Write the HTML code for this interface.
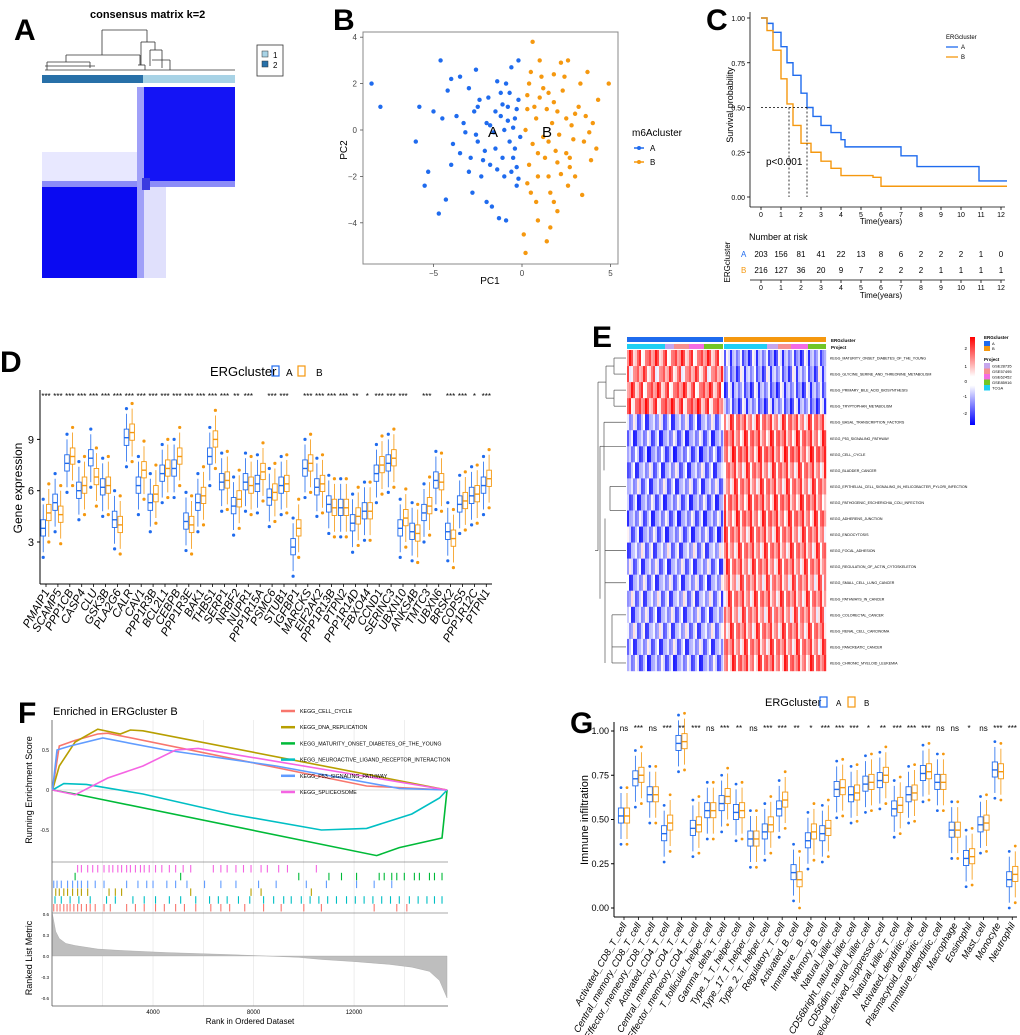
<!DOCTYPE html>
<html><head><meta charset="utf-8"><style>
html,body{margin:0;padding:0;background:#fff;}
svg{display:block;font-family:"Liberation Sans",sans-serif;}
</style></head><body>
<svg id="fig" xmlns="http://www.w3.org/2000/svg" width="1020" height="1035" viewBox="0 0 1020 1035"></svg>
<script>
// ===== Panel B data =====
const pcaAx=[-8.5,-8,-6,-5.8,-5.5,-5.3,-4.7,-4.6,-4.5,-4.3,-4.2,-4,-3.9,-3.5,-3.3,-3,-3,-2.8,-2.6,-2.5,-2.5,-2.2,-2,-2,-1.8,-1.7,-1.5,-1.5,-1.3,-1.2,-1,-1,-0.9,-0.8,-0.7,-0.6,-0.5,-0.4,-0.3,-0.2,-0.2,-0.1,-3.5,-2.7,-2.3,-1.9,-1.6,-1.1,-0.9,-0.5,-0.3,-4,-3.2,-2.1,-1.4,-0.7,-0.4,-1.2,-2.4,-3.7,-5,-2.9,-1.8,-0.6,-0.2,-1.4,-0.8,-2.6,-0.3,-1.1];
const pcaAy=[2,1,-0.5,1,-2.4,-1.8,-3.6,3,0.5,-3,1.7,2.2,-0.6,2.3,0.3,-1.8,1.8,-2.7,2.6,-0.5,1,-1.3,-3.1,0.3,-1.5,-3.3,0.8,-0.8,-3.8,1.6,-2,0,-3.9,1,-0.5,2.7,-1.2,0.5,-2.4,1.3,3,-0.3,-1,0.8,-2,1.4,-0.1,-1.2,2,0.1,-1.6,-1.5,-0.1,-0.9,2.1,1.6,-0.8,0.6,1.3,0.6,0.8,-1.2,0.2,-1.8,-2.1,-1.7,0.4,-0.2,0.9,1.1];
const pcaBx=[0.6,0.2,0.1,0.8,0.9,1.4,1.6,1.8,2,1.5,3.4,3,4.2,4.9,4.3,3.7,2.6,1.8,1,0.5,0.3,0.8,1.2,1.5,2,2.5,2.8,3.2,0.4,0.9,1.3,2.2,2.7,3.5,0.2,0.6,1.7,2.3,2.9,3.6,0.3,1.1,1.9,2.4,0.7,1.4,2.1,3,0.5,1.6,2.6,3.9,4,0.4,1.2,2.5,1.8,0.9,2.2,3.3,3.8,1,2,0.3,1.5,2.7];
const pcaBy=[3.8,-5.3,-4.5,-3.1,-3.9,-4.8,-4.2,-3.1,-3.5,-2,-2.8,-2,-0.8,2,1.3,2.5,3,2.4,3,2.5,1.5,0.5,1.8,-0.5,0.8,-1,0.2,1,-1.5,-2,-1.2,-1.9,-1.6,-0.5,0,-0.6,0.3,1.7,-0.4,0.6,-2.3,2.3,-0.9,2.3,1,0.9,-0.2,0.7,-2.7,-2.7,-2.4,-1.3,0.3,2,-0.3,0.5,1.2,-1,2.9,2,-0.1,1.4,-1.4,0.9,1.6,-1.2];
// ===== Panel C data =====
const survAt=[0,0.3,0.6,1,1.3,1.6,2,2.3,2.6,3,3.5,4,4.2,7,7.8,10.9,12.3];
const survAs=[1,0.97,0.92,0.84,0.75,0.68,0.58,0.5,0.45,0.4,0.36,0.32,0.28,0.23,0.17,0.09,0.09];
const survBt=[0,0.3,0.6,1,1.3,1.6,2,2.5,3,3.5,4,5.6,6,12.3];
const survBs=[1,0.93,0.82,0.66,0.52,0.4,0.3,0.25,0.2,0.16,0.12,0.11,0.06,0.06];
const riskA=[203,156,81,41,22,13,8,6,2,2,2,1,0];
const riskB=[216,127,36,20,9,7,2,2,2,1,1,1,1];
const timeTicks=[0,1,2,3,4,5,6,7,8,9,10,11,12];
// ===== Panel D data =====
const genes=["PMAIP1","SCAMP5","PPP1CB","CASP4","CLU","GSK3B","PLA2G6","CALR","CAV1","PPP1R3B","BCL2L1","CEBPB","PPP1R3E","BAK1","THBS1","SERP1","NRBF2","NUPR1","PPP1R15A","PSMC6","STUB1","IGFBP1","MARCKS","EIF2AK2","PPP1R13B","PTPN2","PPP1R14D","FBXO44","CCND1","SERINC3","UBXN10","ANKS4B","TMTC3","UBXN6","BRSK2","COPS5","PPP1R12C","PTPN1"];
const medA=[3.8,5.3,7.6,6.0,7.9,6.2,4.3,9.1,6.3,5.3,7.0,7.3,4.2,5.3,8.0,6.5,5.1,6.5,6.4,5.6,6.3,2.7,7.3,6.2,5.2,5.0,4.1,4.8,7.0,7.6,3.8,3.6,4.7,6.6,3.6,5.2,5.7,6.3];
const medB=[4.7,4.6,8.0,6.3,6.8,6.3,4.0,9.4,7.2,5.8,7.3,8.0,4.0,5.7,9.0,6.6,5.5,6.3,7.1,5.9,6.4,3.8,7.6,6.4,5.0,5.0,4.5,4.8,7.5,7.9,4.4,3.5,5.1,6.5,3.2,5.4,5.8,6.7];
const sigD=["***","***","***","***","***","***","***","***","***","***","***","***","***","***","***","***","**","***","","***","***","","***","***","***","***","**","*","***","***","***","","***","","***","***","*","***"];
const exprTicks=[3,6,9];
// ===== Panel E data =====
const pathways=["KEGG_MATURITY_ONSET_DIABETES_OF_THE_YOUNG","KEGG_GLYCINE_SERINE_AND_THREONINE_METABOLISM","KEGG_PRIMARY_BILE_ACID_BIOSYNTHESIS","KEGG_TRYPTOPHAN_METABOLISM","KEGG_BASAL_TRANSCRIPTION_FACTORS","KEGG_P53_SIGNALING_PATHWAY","KEGG_CELL_CYCLE","KEGG_BLADDER_CANCER","KEGG_EPITHELIAL_CELL_SIGNALING_IN_HELICOBACTER_PYLORI_INFECTION","KEGG_PATHOGENIC_ESCHERICHIA_COLI_INFECTION","KEGG_ADHERENS_JUNCTION","KEGG_ENDOCYTOSIS","KEGG_FOCAL_ADHESION","KEGG_REGULATION_OF_ACTIN_CYTOSKELETON","KEGG_SMALL_CELL_LUNG_CANCER","KEGG_PATHWAYS_IN_CANCER","KEGG_COLORECTAL_CANCER","KEGG_RENAL_CELL_CARCINOMA","KEGG_PANCREATIC_CANCER","KEGG_CHRONIC_MYELOID_LEUKEMIA"];
const rowMeanA=[1.0,0.8,1.0,1.1,-0.9,-1.0,-1.1,-0.9,-0.9,-1.0,-1.0,-1.0,-0.8,-0.9,-0.9,-0.8,-0.9,-0.8,-0.9,-1.0];
const rowMeanB=[-1.0,-0.9,-1.0,-1.0,0.9,1.0,1.1,0.9,0.9,1.0,1.0,0.9,0.9,0.9,0.8,0.9,0.8,0.9,0.9,1.0];
const cellTexture=[0.0,0.6,-0.5,0.9,-0.9,0.3,-0.2,1.1,-0.7,0.4,-1.0,0.2,0.7];
// ===== Panel F data =====
const gsNames=["KEGG_CELL_CYCLE","KEGG_DNA_REPLICATION","KEGG_MATURITY_ONSET_DIABETES_OF_THE_YOUNG","KEGG_NEUROACTIVE_LIGAND_RECEPTOR_INTERACTION","KEGG_P53_SIGNALING_PATHWAY","KEGG_SPLICEOSOME"];
const esRank=[
 [0,270,900,1800,2200,12500,15700],
 [0,270,900,1800,2700,3100,3600,15700],
 [0,900,12900,13800,15500,15700],
 [0,450,1350,3600,7100,10700,12500,14300,15400,15700],
 [0,180,700,2000,4500,8900,13800,15700],
 [0,900,2200,3600,4900,5800,15700]];
const esScore=[
 [0,0.55,0.62,0.70,0.71,0.05,0],
 [0,0.30,0.60,0.76,0.70,0.75,0.74,0],
 [0,-0.05,-0.82,-0.72,-0.60,0],
 [0,0.08,0.07,-0.05,-0.30,-0.50,-0.48,-0.30,-0.10,0],
 [0,0.50,0.55,0.65,0.50,0.30,0.02,0],
 [0,-0.06,0.15,0.30,0.50,0.52,0]];
const hitsSplice=[1000,1150,1400,1600,1800,2050,2250,2400,2600,2750,2950,3100,3300,3500,3650,3850,4100,4350,4650,4900,5200,5500,6400,6700,6950,7300,7600,7900,8300,8550,9000,9350,10500];
const hitsMody=[900,5100,9800,11000,11500,12100,13000,13200,13500,13700,14000,14400,14600,15000,15200,15500];
const hitsP53=[50,180,350,600,800,1000,1150,1400,1700,2050,2950,3400,3750,4000,4550,4900,5350,6050,6700,7300,8200,8900,10100,10900,12100,12800,13500];
const hitsDna=[130,270,450,600,800,1000,1150,1400,2250,2500,2750,5500,7900,8300,10300];
const hitsNeuro=[100,350,700,1050,1500,2150,2500,3200,3650,4100,4650,5100,5700,6250,6600,6950,7400,7850,8400,8800,9200,9500,9900,10250,10600,10950,11300,11700,12050,12400,12750,13100,13450,13800,14200,14550,14900,15200,15500];
const hitsCycle=[50,180,300,450,580,700,850,1000,1150,1350,1500,1700,2050,2300,2950,3300,3650,4100,4450,4900,5250,5700,6300,6700,7050,7650,8400,9100,10000,10700,12800,13700,14100];
const metricRank=[0,130,270,530,900,1800,2700,4500,7100,8500,9800,10700,12000,13400,14300,15000,15400,15700];
const metricVal=[0.6,0.35,0.25,0.18,0.15,0.1,0.08,0.05,0.02,0.0,-0.02,-0.05,-0.08,-0.12,-0.16,-0.22,-0.35,-0.6];
const rankTicks=[4000,8000,12000];
// ===== Panel G data =====
const cells=["Activated_CD8_T_cell","Central_memory_CD8_T_cell","Effector_memeory_CD8_T_cell","Activated_CD4_T_cell","Central_memory_CD4_T_cell","Effector_memeory_CD4_T_cell","T_follicular_helper_cell","Gamma_delta_T_cell","Type_1_T_helper_cell","Type_17_T_helper_cell","Type_2_T_helper_cell","Regulatory_T_cell","Activated_B_cell","Immature__B_cell","Memory_B_cell","Natural_killer_cell","CD56bright_natural_killer_cell","CD56dim_natural_killer_cell","Myeloid_derived_suppressor_cell","Natural_killer_T_cell","Activated_dendritic_cell","Plasmacytoid_dendritic_cell","Immature_dendritic_cell","Macrophage","Eosinophil","Mast_cell","Monocyte","Neutrophil"];
const infA=[0.52,0.73,0.64,0.42,0.93,0.45,0.55,0.59,0.54,0.39,0.43,0.56,0.20,0.38,0.42,0.67,0.64,0.70,0.72,0.56,0.64,0.76,0.71,0.44,0.28,0.47,0.78,0.16];
const infB=[0.52,0.75,0.64,0.48,0.94,0.47,0.55,0.63,0.55,0.39,0.47,0.61,0.16,0.43,0.45,0.68,0.65,0.71,0.75,0.58,0.65,0.77,0.71,0.44,0.29,0.48,0.77,0.19];
const sigG=["ns","***","ns","***","**","***","ns","***","**","ns","***","***","**","*","***","***","***","*","**","***","***","***","ns","ns","*","ns","***","***"];
const infTicks=[0,0.25,0.5,0.75,1];

// ===== helpers =====
const NS="http://www.w3.org/2000/svg";
const svg=document.getElementById('fig');
const BLUE="#1F6BEE",ORANGE="#F5980F";
function mk(t,a,p){const e=document.createElementNS(NS,t);for(const k in a)e.setAttribute(k,a[k]);(p||svg).appendChild(e);return e;}
function nm(e,n){


return e;}
function tx(s,x,y,a,p){const e=mk('text',Object.assign({x:x,y:y,fill:'#000'},a||{}),p);e.textContent=s;return e;}
function grp(n){const g=mk('g',{});


return g;}
function line(x1,y1,x2,y2,st,sw,p,extra){return mk('line',Object.assign({x1,y1,x2,y2,stroke:st,'stroke-width':sw},extra||{}),p);}

// ===== Panel A =====
(function(){
const g=grp('panel-a');
nm(tx('A',14,40,{'font-size':30,'font-weight':'bold'},g),'panel-a-label');
nm(tx('consensus matrix k=2',90,18,{'font-size':11,'font-weight':'bold'},g),'panel-a-title');
const d=grp('consensus-dendrogram');g.appendChild(d);
[[102,30,147,30],[102,30,102,55],[147,30,147,42],[66,55,140,55],[66,55,66,62],[140,55,140,65],[47,62,90,62],[47,62,47,70],[90,62,90,68],[141,42,155,42],[141,42,141,65],[155,42,155,50],[150,50,162,50],[150,50,150,66],[162,50,162,68],[138,65,145,65],[145,65,145,70],[45,70,235,70],[45,66,95,66],[152,60,170,60],[170,60,170,70]].forEach(c=>line(c[0],c[1],c[2],c[3],'#333',0.8,d));
nm(mk('rect',{x:42,y:75,width:101,height:8,fill:'#2870A8'},g),'cluster-bar-2');
nm(mk('rect',{x:143,y:75,width:92,height:8,fill:'#A8D3E6'},g),'cluster-bar-1');
const h=grp('consensus-heatmap');g.appendChild(h);
mk('rect',{x:42,y:87,width:193,height:191,fill:'#fff'},h);
mk('rect',{x:42,y:152,width:100,height:30,fill:'#E8E8FF'},h);
mk('rect',{x:143,y:87,width:92,height:94,fill:'#1414F5'},h);
mk('rect',{x:42,y:186,width:96,height:92,fill:'#0A0AF2'},h);
mk('rect',{x:42,y:181,width:193,height:6,fill:'#8C8CF8'},h);
mk('rect',{x:137,y:87,width:7,height:191,fill:'#A0A0F8'},h);
mk('rect',{x:144,y:187,width:22,height:91,fill:'#E0E0FC'},h);
mk('rect',{x:142,y:178,width:8,height:12,fill:'#3B3BE0'},h);
const lg=grp('consensus-legend');g.appendChild(lg);
mk('rect',{x:257,y:45,width:26,height:31,fill:'#fff',stroke:'#333','stroke-width':0.8},lg);
mk('rect',{x:262,y:51,width:6,height:6,fill:'#A8D3E6',stroke:'#333','stroke-width':0.5},lg);
mk('rect',{x:262,y:61,width:6,height:6,fill:'#2870A8',stroke:'#333','stroke-width':0.5},lg);
tx('1',273,58,{'font-size':8},lg);tx('2',273,68,{'font-size':8},lg);
})();

// ===== Panel B =====
(function(){
const g=grp('panel-b');
nm(tx('B',333,30,{'font-size':30,'font-weight':'bold'},g),'panel-b-label');
const X=v=>522+v*17.7, Y=v=>130-v*23.2;
nm(mk('rect',{x:363,y:32,width:255,height:232,fill:'#fff',stroke:'#888','stroke-width':1},g),'pca-plot-area');
[-5,0,5].forEach(v=>{line(X(v),264,X(v),267,'#555',0.8,g);nm(tx(String(v).replace('-','−'),X(v),276,{'font-size':8,'text-anchor':'middle',fill:'#444'},g),'pc1-tick');});
[-4,-2,0,2,4].forEach(v=>{line(360,Y(v),363,Y(v),'#555',0.8,g);nm(tx(String(v).replace('-','−'),357,Y(v)+3,{'font-size':8,'text-anchor':'end',fill:'#444'},g),'pc2-tick');});
nm(tx('PC1',490,284,{'font-size':10,'text-anchor':'middle'},g),'pc1-axis-title');
nm(tx('PC2',347,150,{'font-size':10,'text-anchor':'middle',transform:'rotate(-90 347 150)'},g),'pc2-axis-title');
pcaAx.forEach((v,i)=>{const c=mk('circle',{cx:X(v),cy:Y(pcaAy[i]),r:2.2,fill:BLUE},g);

});
pcaBx.forEach((v,i)=>{const c=mk('circle',{cx:X(v),cy:Y(pcaBy[i]),r:2.2,fill:ORANGE},g);

});
nm(tx('A',488,137,{'font-size':15},g),'cluster-a-label');
nm(tx('B',542,137,{'font-size':15},g),'cluster-b-label');
nm(tx('m6Acluster',632,136,{'font-size':10},g),'pca-legend-title');
line(634,148,644,148,BLUE,1.5,g);mk('circle',{cx:639,cy:148,r:2,fill:BLUE},g);tx('A',650,151,{'font-size':8},g);
line(634,162,644,162,ORANGE,1.5,g);mk('circle',{cx:639,cy:162,r:2,fill:ORANGE},g);tx('B',650,165,{'font-size':8},g);
})();

// ===== Panel C =====
(function(){
const g=grp('panel-c');
nm(tx('C',706,30,{'font-size':30,'font-weight':'bold'},g),'panel-c-label');
const X=t=>761+t*20, Y=s=>197-s*179;
line(750,12,750,207,'#000',0.8,g);line(750,207,1005,207,'#000',0.8,g);
[0,0.25,0.5,0.75,1].forEach(v=>{line(747,Y(v),750,Y(v),'#000',0.8,g);nm(tx(v.toFixed(2),745,Y(v)+3,{'font-size':7,'text-anchor':'end'},g),'survival-y-tick');});
timeTicks.forEach(t=>{line(X(t),207,X(t),210,'#000',0.8,g);nm(tx(String(t),X(t),217,{'font-size':7,'text-anchor':'middle'},g),'time-tick');});
nm(tx('Time(years)',881,224,{'font-size':8,'text-anchor':'middle'},g),'time-axis-title');
nm(tx('Survival probability',733,105,{'font-size':9,'text-anchor':'middle',transform:'rotate(-90 733 105)'},g),'survival-axis-title');
function step(ts,ss){let d='M'+X(ts[0])+','+Y(ss[0]);for(let i=1;i<ts.length;i++){d+=' H'+X(ts[i])+' V'+Y(ss[i]);}return d;}
nm(mk('path',{d:step(survAt,survAs),fill:'none',stroke:BLUE,'stroke-width':1.4},g),'survival-curve-a');
nm(mk('path',{d:step(survBt,survBs),fill:'none',stroke:ORANGE,'stroke-width':1.4},g),'survival-curve-b');
line(761,Y(0.5),X(2.3),Y(0.5),'#000',0.8,g,{'stroke-dasharray':'2,2'});
line(X(1.4),Y(0.5),X(1.4),197,'#000',0.8,g,{'stroke-dasharray':'2,2'});
line(X(2.3),Y(0.5),X(2.3),197,'#000',0.8,g,{'stroke-dasharray':'2,2'});
nm(tx('p<0.001',766,165,{'font-size':10},g),'p-value');
nm(tx('ERGcluster',946,39,{'font-size':6},g),'survival-legend-title');
line(946,47,958,47,BLUE,1.3,g);tx('A',961,49,{'font-size':6},g);
line(946,57,958,57,ORANGE,1.3,g);tx('B',961,59,{'font-size':6},g);
nm(tx('Number at risk',749,240,{'font-size':9},g),'risk-table-title');
nm(tx('ERGcluster',730,262,{'font-size':8,'text-anchor':'middle',transform:'rotate(-90 730 262)'},g),'risk-y-title');
tx('A',741,257,{'font-size':8,fill:BLUE},g);tx('B',741,273,{'font-size':8,fill:ORANGE},g);
riskA.forEach((v,i)=>nm(tx(String(v),X(timeTicks[i]),257,{'font-size':8,'text-anchor':'middle'},g),'risk-a-count'));
riskB.forEach((v,i)=>nm(tx(String(v),X(timeTicks[i]),273,{'font-size':8,'text-anchor':'middle'},g),'risk-b-count'));
line(750,280,1005,280,'#000',0.8,g);
timeTicks.forEach(t=>{line(X(t),280,X(t),283,'#000',0.8,g);tx(String(t),X(t),290,{'font-size':7,'text-anchor':'middle'},g);});
nm(tx('Time(years)',881,298,{'font-size':8,'text-anchor':'middle'},g),'risk-time-axis-title');
})();

// ===== Panel D =====
(function(){
const g=grp('panel-d');
nm(tx('D',0,372,{'font-size':30,'font-weight':'bold'},g),'panel-d-label');
nm(tx('ERGcluster',210,376,{'font-size':13},g),'expr-legend-title');
mk('rect',{x:272,y:366,width:7,height:10,fill:'none',stroke:BLUE,'stroke-width':1.2},g);tx('A',286,376,{'font-size':10},g);
mk('rect',{x:298,y:366,width:7,height:10,fill:'none',stroke:ORANGE,'stroke-width':1.2},g);tx('B',316,376,{'font-size':10},g);
const Y=v=>542-(v-3)*17.1, X=i=>46+i*11.9;
line(40,390,40,584,'#000',1,g);line(40,584,492,584,'#000',1,g);
exprTicks.forEach(v=>{line(37,Y(v),40,Y(v),'#000',1,g);nm(tx(String(v),34,Y(v)+4,{'font-size':11,'text-anchor':'end'},g),'expr-tick');});
nm(tx('Gene expression',22,488,{'font-size':12,'text-anchor':'middle',transform:'rotate(-90 22 488)'},g),'expr-axis-title');
function box(cx,m,col,nmStr){const b=mk('g',{},g);


line(cx,Y(m+1.4),cx,Y(m-1.4),col,0.8,b);
mk('rect',{x:cx-2.3,y:Y(m+0.5),width:4.6,height:Y(m-0.45)-Y(m+0.5),fill:'#fff',stroke:col,'stroke-width':0.9},b);
line(cx-2.3,Y(m),cx+2.3,Y(m),col,1.4,b);
mk('circle',{cx:cx,cy:Y(m+1.7),r:1.6,fill:col},b);mk('circle',{cx:cx,cy:Y(m-1.7),r:1.6,fill:col},b);}
genes.forEach((gn,i)=>{const cx=X(i);
box(cx-2.8,medA[i],BLUE,'box-'+gn.toLowerCase()+'-a');
box(cx+2.8,medB[i],ORANGE,'box-'+gn.toLowerCase()+'-b');
line(cx,584,cx,587,'#000',0.8,g);
nm(tx(gn,cx+4,592,{'font-size':11.5,'font-style':'italic','text-anchor':'end',transform:'rotate(-60 '+(cx+4)+' 592)'},g),'gene-label');
nm(tx(sigD[i],cx,399,{'font-size':8,'text-anchor':'middle'},g),'significance-mark');});
})();

// ===== Panel E =====
(function(){
const g=grp('panel-e');
nm(tx('E',592,347,{'font-size':30,'font-weight':'bold'},g),'panel-e-label');
const x0=627,ncolA=48,ncolB=51,cw=2,gapX=724,top=350,rh=16.05;
nm(mk('rect',{x:x0,y:337,width:ncolA*cw,height:5,fill:'#1F6BEE'},g),'ergcluster-annotation-a');
nm(mk('rect',{x:gapX,y:337,width:ncolB*cw,height:5,fill:ORANGE},g),'ergcluster-annotation-b');
const proj=[['#1ECFF3',0,38],['#C6A6EC',38,47],['#F69090',47,62],['#F36CE3',62,77],['#72C626',77,96]];
proj.forEach(p=>mk('rect',{x:x0+p[1],y:344,width:p[2]-p[1],height:5,fill:p[0]},g));
const projB=[['#1ECFF3',0,43],['#C6A6EC',43,54],['#F69090',54,67],['#F36CE3',67,84],['#72C626',84,102]];
projB.forEach(p=>mk('rect',{x:gapX+p[1],y:344,width:p[2]-p[1],height:5,fill:p[0]},g));
tx('ERGcluster',831,342,{'font-size':4.5,'font-weight':'bold'},g);tx('Project',831,349,{'font-size':4.5,'font-weight':'bold'},g);
function col(v){v=Math.max(-2.3,Math.min(2.3,v))/2.3;let r,gg,b;if(v>=0){r=255;gg=b=Math.round(255*(1-v));}else{b=255;r=gg=Math.round(255*(1+v));}return 'rgb('+r+','+gg+','+b+')';}
const hm=grp('gsva-heatmap');g.appendChild(hm);
pathways.forEach((p,r)=>{
 for(let c=0;c<ncolA;c++){const v=rowMeanA[r]+cellTexture[(c*7+r*3)%13];const e=mk('rect',{x:x0+c*cw,y:top+r*rh,width:cw+0.2,height:rh+0.2,fill:col(v)},hm);
 
 }
 for(let c=0;c<ncolB;c++){const v=rowMeanB[r]+cellTexture[(c*5+r*4+2)%13];const e=mk('rect',{x:gapX+c*cw,y:top+r*rh,width:cw+0.2,height:rh+0.2,fill:col(v)},hm);
 
 }
 nm(tx(p,830,top+r*rh+rh/2+1.5,{'font-size':3.6},g),'pathway-label');});
const dd=grp('pathway-dendrogram');g.appendChild(dd);
const ym=r=>top+r*rh+rh/2;
[[614,ym(0),626,ym(0)],[614,ym(1),626,ym(1)],[614,ym(0),614,ym(1)],[614,ym(2),626,ym(2)],[614,ym(3),626,ym(3)],[614,ym(2),614,ym(3)],[606,ym(0.5),614,ym(0.5)],[606,ym(2.5),614,ym(2.5)],[606,ym(0.5),606,ym(2.5)],[598,ym(1.5),606,ym(1.5)],[598,ym(1.5),598,ym(12)],[595,ym(12),598,ym(12)],[604,ym(4),626,ym(4)],[604,ym(5.5),626,ym(5.5)],[604,ym(4),604,ym(7)],[600,ym(5.5),604,ym(5.5)],[600,ym(5.5),600,ym(15)],[610,ym(8),626,ym(8)],[610,ym(9.5),626,ym(9.5)],[610,ym(8),610,ym(9.5)],[605,ym(12),626,ym(12)],[605,ym(14),626,ym(14)],[605,ym(10),605,ym(19)],[612,ym(16),626,ym(16)],[612,ym(18),626,ym(18)],[612,ym(16),612,ym(19)],[612,ym(19),626,ym(19)]].forEach(c=>line(c[0],c[1],c[2],c[3],'#555',0.7,dd));
const lg=grp('heatmap-legend');g.appendChild(lg);
const gr=mk('linearGradient',{id:'cb',x1:0,y1:0,x2:0,y2:1},svg);
[['0','#FF0000'],['0.45','#FFFFFF'],['0.55','#FFFFFF'],['1','#0000FF']].forEach(s=>mk('stop',{offset:s[0],'stop-color':s[1]},gr));
nm(mk('rect',{x:970,y:337,width:5,height:88,fill:'url(#cb)'},lg),'colorbar');
[['2',350],['1',368],['0',383],['-1',398],['-2',415]].forEach(t=>tx(t[0],967,t[1],{'font-size':4.5,'text-anchor':'end'},lg));
tx('ERGcluster',984,339,{'font-size':4.5,'font-weight':'bold'},lg);
mk('rect',{x:984,y:341,width:6,height:5,fill:'#1F6BEE'},lg);tx('A',992,345,{'font-size':4},lg);
mk('rect',{x:984,y:346,width:6,height:5,fill:ORANGE},lg);tx('B',992,350,{'font-size':4},lg);
tx('Project',984,361,{'font-size':4.5,'font-weight':'bold'},lg);
[['GSE28735','#C6A6EC'],['GSE57495','#F69090'],['GSE62452','#F36CE3'],['GSE85916','#72C626'],['TCGA','#1ECFF3']].forEach((p,i)=>{mk('rect',{x:984,y:363+i*5.5,width:6,height:5.5,fill:p[1]},lg);tx(p[0],992,367.5+i*5.5,{'font-size':4},lg);});
})();

// ===== Panel F =====
(function(){
const g=grp('panel-f');
nm(tx('F',18,723,{'font-size':30,'font-weight':'bold'},g),'panel-f-label');
nm(tx('Enriched in ERGcluster B',53,715,{'font-size':11},g),'gsea-title');
const X=r=>52.5+r*0.02513, Y=v=>790-v*80, Ym=v=>956-v*70;
mk('rect',{x:52,y:720,width:396,height:286,fill:'#fff'},g);
[2000,4000,6000,8000,10000,12000,14000].forEach(r=>line(X(r),720,X(r),1006,'#ddd',0.5,g));
line(52,720,52,1006,'#555',0.8,g);line(52,1006,448,1006,'#555',0.8,g);
line(52,862,448,862,'#555',0.6,g);line(52,913,448,913,'#555',0.6,g);
line(52,Y(0),448,Y(0),'#bbb',0.5,g);
[-0.5,0,0.5].forEach(v=>nm(tx(String(v),49,Y(v)+2,{'font-size':5,'text-anchor':'end'},g),'es-tick'));
[-0.6,-0.3,0,0.3,0.6].forEach(v=>nm(tx(v.toFixed(1),49,Ym(v)+2,{'font-size':4.5,'text-anchor':'end'},g),'metric-tick'));
nm(tx('Running Enrichment Score',32,790,{'font-size':9,'text-anchor':'middle',transform:'rotate(-90 32 790)'},g),'es-axis-title');
nm(tx('Ranked List Metric',32,958,{'font-size':9,'text-anchor':'middle',transform:'rotate(-90 32 958)'},g),'metric-axis-title');
rankTicks.forEach(r=>nm(tx(String(r),X(r),1014,{'font-size':6,'text-anchor':'middle'},g),'rank-tick'));
nm(tx('Rank in Ordered Dataset',250,1024,{'font-size':8,'text-anchor':'middle'},g),'rank-axis-title');
let pd='M'+X(0)+','+Ym(0);metricRank.forEach((r,i)=>{pd+=' L'+X(r)+','+Ym(metricVal[i]);});pd+=' L'+X(metricRank[metricRank.length-1])+','+Ym(0)+' Z';
nm(mk('path',{d:pd,fill:'#BEBEBE',stroke:'#999','stroke-width':0.3},g),'ranked-metric-area');
const cols=['#F8766D','#B79F00','#00BA38','#00BFC4','#619CFF','#F564E3'];
esRank.forEach((rk,k)=>{let d='';rk.forEach((r,i)=>{d+=(i?' L':'M')+X(r)+','+Y(esScore[k][i]);});
const p=mk('path',{d:d,fill:'none',stroke:cols[k],'stroke-width':1.6},g);

});
const hitSets=[[hitsSplice,cols[5]],[hitsMody,cols[2]],[hitsP53,cols[4]],[hitsDna,cols[1]],[hitsNeuro,cols[3]],[hitsCycle,cols[0]]];
hitSets.forEach((hs,k)=>{const y0=865+k*7.8;hs[0].forEach(r=>{const l=line(X(r),y0,X(r),y0+7.5,hs[1],1.1,g);

});});
gsNames.forEach((n,k)=>{const y=711+k*16.2;line(281,y,295,y,cols[k],2.5,g);nm(tx(n,300,y+2,{'font-size':5.3},g),'gsea-legend-entry');});
})();

// ===== Panel G =====
(function(){
const g=grp('panel-g');
nm(tx('G',570,733,{'font-size':30,'font-weight':'bold'},g),'panel-g-label');
nm(tx('ERGcluster',765,706,{'font-size':11},g),'infiltration-legend-title');
mk('rect',{x:820,y:697,width:7,height:10,fill:'none',stroke:BLUE,'stroke-width':1.2},g);tx('A',836,706,{'font-size':8},g);
mk('rect',{x:848,y:697,width:7,height:10,fill:'none',stroke:ORANGE,'stroke-width':1.2},g);tx('B',864,706,{'font-size':8},g);
const Y=v=>908-v*177, X=i=>624+i*14.38;
line(614,722,614,917,'#000',1,g);line(614,917,1017,917,'#000',1,g);
infTicks.forEach(v=>{line(611,Y(v),614,Y(v),'#000',1,g);nm(tx(v.toFixed(2),609,Y(v)+3,{'font-size':9,'text-anchor':'end'},g),'infiltration-tick');});
nm(tx('Immune infiltration',588,820,{'font-size':11,'text-anchor':'middle',transform:'rotate(-90 588 820)'},g),'infiltration-axis-title');
function box(cx,m,col,nmStr){const b=mk('g',{},g);


line(cx,Y(m+0.13),cx,Y(m-0.13),col,0.8,b);
mk('rect',{x:cx-2.6,y:Y(m+0.045),width:5.2,height:Y(m-0.04)-Y(m+0.045),fill:'#fff',stroke:col,'stroke-width':0.9},b);
line(cx-2.6,Y(m),cx+2.6,Y(m),col,1.4,b);
mk('circle',{cx:cx,cy:Y(m+0.16),r:1.4,fill:col},b);mk('circle',{cx:cx,cy:Y(m-0.16),r:1.4,fill:col},b);}
cells.forEach((c,i)=>{const cx=X(i);
box(cx-3,infA[i],BLUE,'box-'+c.toLowerCase()+'-a');
box(cx+3,infB[i],ORANGE,'box-'+c.toLowerCase()+'-b');
line(cx,917,cx,920,'#000',0.8,g);
nm(tx(sigG[i],cx,731,{'font-size':8,'text-anchor':'middle'},g),'significance-mark');
nm(tx(c,cx+3,925,{'font-size':9.5,'font-style':'italic','text-anchor':'end',transform:'rotate(-60 '+(cx+3)+' 925)'},g),'cell-type-label');});
})();
</script>
</body></html>
